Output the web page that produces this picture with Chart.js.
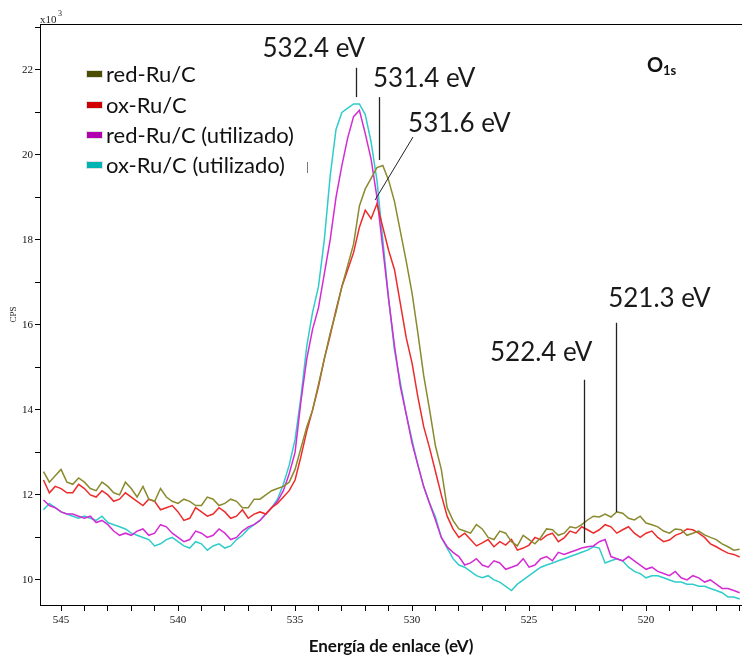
<!DOCTYPE html>
<html>
<head>
<meta charset="utf-8">
<script src="https://cdn.jsdelivr.net/npm/chart.js@4/dist/chart.umd.min.js"></script>
<style>
  html, body { margin: 0; padding: 0; background: #fff; }
  canvas { display: block; }
</style>
</head>
<body>
<canvas id="xps" width="742" height="657"></canvas>
<script>
// Binding energy grid (eV), one row = 2 eV
const energy = [
    545.75, 545.5, 545.25, 545.0, 544.75, 544.5, 544.25, 544.0,
    543.75, 543.5, 543.25, 543.0, 542.75, 542.5, 542.25, 542.0,
    541.75, 541.5, 541.25, 541.0, 540.75, 540.5, 540.25, 540.0,
    539.75, 539.5, 539.25, 539.0, 538.75, 538.5, 538.25, 538.0,
    537.75, 537.5, 537.25, 537.0, 536.75, 536.5, 536.25, 536.0,
    535.75, 535.5, 535.25, 535.0, 534.75, 534.5, 534.25, 534.0,
    533.75, 533.5, 533.25, 533.0, 532.75, 532.5, 532.25, 532.0,
    531.75, 531.5, 531.25, 531.0, 530.75, 530.5, 530.25, 530.0,
    529.75, 529.5, 529.25, 529.0, 528.75, 528.5, 528.25, 528.0,
    527.75, 527.5, 527.25, 527.0, 526.75, 526.5, 526.25, 526.0,
    525.75, 525.5, 525.25, 525.0, 524.75, 524.5, 524.25, 524.0,
    523.75, 523.5, 523.25, 523.0, 522.75, 522.5, 522.25, 522.0,
    521.75, 521.5, 521.25, 521.0, 520.75, 520.5, 520.25, 520.0,
    519.75, 519.5, 519.25, 519.0, 518.75, 518.5, 518.25, 518.0,
    517.75, 517.5, 517.25, 517.0, 516.75, 516.5, 516.25, 516.0
];

// CPS (x10^3) per sample, same grid as energy
const redRuC = [
    12.55, 12.3, 12.45, 12.6, 12.3, 12.25, 12.4, 12.3,
    12.15, 12.1, 12.3, 12.2, 12.05, 12.0, 12.3, 12.15,
    11.95, 12.2, 11.9, 11.85, 12.15, 11.95, 11.85, 11.8,
    11.9, 11.85, 11.75, 11.75, 11.95, 11.9, 11.75, 11.8,
    11.9, 11.85, 11.7, 11.7, 11.9, 11.9, 12.0, 12.1,
    12.15, 12.2, 12.3, 12.6, 13.1, 13.6, 14.0, 14.6,
    15.2, 15.8, 16.3, 16.9, 17.4, 17.9, 18.8, 19.2,
    19.45, 19.7, 19.75, 19.4, 18.9, 18.2, 17.5, 16.75,
    15.8, 14.8, 14.0, 13.15, 12.6, 11.7, 11.4, 11.2,
    11.15, 11.1, 11.3, 11.2, 11.0, 10.95, 11.15, 11.1,
    10.9, 10.8, 11.05, 10.95, 10.85, 11.0, 11.2, 11.18,
    11.05, 11.1, 11.25, 11.22, 11.3, 11.41, 11.5, 11.48,
    11.55, 11.48, 11.6, 11.57, 11.45, 11.41, 11.5, 11.34,
    11.3, 11.25, 11.15, 11.1, 11.2, 11.18, 11.05, 11.1,
    11.15, 11.06, 11.0, 10.95, 10.85, 10.78, 10.7, 10.72
];
const oxRuC = [
    12.35, 12.05, 12.2, 12.15, 12.05, 12.05, 12.25, 12.15,
    12.0, 11.95, 12.1, 12.0, 11.85, 11.9, 12.05, 11.95,
    11.85, 11.75, 11.9, 11.85, 11.65, 11.7, 11.75, 11.6,
    11.4, 11.45, 11.7, 11.6, 11.5, 11.55, 11.7, 11.6,
    11.45, 11.5, 11.65, 11.45, 11.55, 11.6, 11.55, 11.7,
    11.8, 11.95, 12.1, 12.35, 12.9, 13.5, 14.0, 14.55,
    15.2, 15.75, 16.35, 16.9, 17.3, 17.7, 18.3, 18.7,
    18.5, 18.85, 18.3, 17.75, 17.3, 16.5, 15.7, 15.1,
    14.3, 13.6, 13.1, 12.55, 12.0, 11.5, 11.2, 11.0,
    11.1, 10.95, 10.8, 10.87, 10.95, 10.78, 10.9, 10.82,
    10.95, 10.7, 10.75, 10.82, 11.0, 10.94, 11.05, 11.1,
    10.9, 10.99, 11.15, 11.1, 11.25, 11.18, 11.1, 11.18,
    11.3, 11.25, 11.1, 11.18, 11.25, 11.1, 11.0, 11.1,
    11.15, 11.0, 10.9, 10.94, 11.05, 11.1, 11.2, 11.18,
    11.1, 11.0, 10.85, 10.78, 10.7, 10.63, 10.6, 10.54
];
const redRuCUsed = [
    11.88, 11.75, 11.7, 11.6, 11.55, 11.55, 11.5, 11.45,
    11.5, 11.35, 11.4, 11.3, 11.15, 11.05, 11.1, 11.05,
    11.15, 11.2, 11.05, 11.1, 11.3, 11.25, 11.1, 11.0,
    10.9, 10.95, 11.15, 11.1, 11.0, 11.05, 11.2, 11.1,
    10.95, 11.0, 11.15, 11.25, 11.3, 11.4, 11.55, 11.7,
    11.85, 12.1, 12.5, 13.0, 14.2, 15.2, 15.9, 16.4,
    17.2, 18.0, 19.0, 19.75, 20.4, 20.9, 21.05, 20.5,
    19.9, 19.0, 17.8, 16.6, 15.5, 14.55, 13.9, 13.22,
    12.7, 12.19, 11.8, 11.41, 11.0, 10.78, 10.65, 10.55,
    10.35, 10.4, 10.5, 10.35, 10.3, 10.45, 10.4, 10.25,
    10.3, 10.35, 10.5, 10.3, 10.35, 10.5, 10.55, 10.45,
    10.65, 10.6, 10.65, 10.7, 10.75, 10.78, 10.8, 10.9,
    10.95, 10.55, 10.5, 10.45, 10.55, 10.45, 10.35, 10.25,
    10.3, 10.2, 10.15, 10.1, 10.2, 10.05, 10.0, 10.1,
    10.05, 9.95, 10.0, 9.9, 9.8, 9.8, 9.75, 9.7
];
const oxRuCUsed = [
    11.65, 11.8, 11.7, 11.6, 11.55, 11.5, 11.45, 11.5,
    11.45, 11.4, 11.5, 11.35, 11.3, 11.25, 11.2, 11.1,
    11.05, 11.0, 10.95, 10.8, 10.85, 10.95, 11.0, 10.9,
    10.8, 10.75, 10.9, 10.85, 10.7, 10.8, 10.85, 10.75,
    10.8, 10.95, 11.05, 11.2, 11.3, 11.4, 11.55, 11.7,
    11.9, 12.25, 12.7, 13.3, 14.3, 15.5, 16.3, 16.9,
    18.0, 19.5, 20.6, 21.0, 21.1, 21.2, 21.2, 20.95,
    20.3, 19.4, 18.0, 16.6, 15.4, 14.64, 13.9, 13.29,
    12.7, 12.19, 11.8, 11.48, 11.0, 10.75, 10.5, 10.35,
    10.3, 10.2, 10.1, 10.05, 10.1, 10.0, 9.95, 9.85,
    9.75, 9.9, 10.0, 10.1, 10.2, 10.3, 10.35, 10.4,
    10.45, 10.5, 10.55, 10.6, 10.65, 10.7, 10.78, 10.75,
    10.4, 10.45, 10.5, 10.45, 10.3, 10.2, 10.15, 10.05,
    10.1, 10.1, 10.05, 10.0, 9.95, 9.95, 9.9, 9.9,
    9.85, 9.85, 9.8, 9.75, 9.7, 9.6, 9.6, 9.55
];

const seriesNames = ['red-Ru/C', 'ox-Ru/C', 'red-Ru/C (utilizado)', 'ox-Ru/C (utilizado)'];
const xTickLabels = [545, 540, 535, 530, 525, 520];
const yTickLabels = [10, 12, 14, 16, 18, 20, 22];

// Line colours and darker legend swatch colours
const LINE_COLORS = ['#8a8a2e', '#ee2b2b', '#d42bd4', '#30cccc'];
const SWATCH_COLORS = ['#4d4d00', '#d00000', '#b000b0', '#00b4b4'];

// Peak markers: text anchor (tx, ty) and vertical line (from -> to) in data units
const peakLabels = [
    { text: '532.4 eV', e: 532.4, tx: 534.2, ty: 22.3, align: 'center', from: 22.05, to: 21.36 },
    { text: '531.4 eV', e: 531.4, tx: 531.67, ty: 21.6, align: 'left', from: 21.36, to: 19.88 },
    { text: '531.6 eV', e: 531.6, tx: 530.17, ty: 20.55, align: 'left', from: null, to: null },
    { text: '522.4 eV', e: 522.65, tx: 526.67, ty: 15.15, align: 'left', from: 14.71, to: 10.87 },
    { text: '521.3 eV', e: 521.3, tx: 521.62, ty: 16.42, align: 'left', from: 16.05, to: 11.6 }
];

function integerTicks(axis) {
    const ticks = [];
    for (let v = Math.ceil(axis.min); v <= Math.floor(axis.max); v++) {
        ticks.push({ value: v });
    }
    axis.ticks = ticks;
}

const TICK_FONT = { family: 'Liberation Serif', size: 11 };

const annotationPlugin = {
    id: 'xpsAnnotations',
    afterDraw(chart) {
        const { ctx, chartArea } = chart;
        const xs = chart.scales.x;
        const ys = chart.scales.y;
        ctx.save();

        // top frame line
        ctx.strokeStyle = '#000';
        ctx.lineWidth = 1;
        ctx.beginPath();
        ctx.moveTo(chartArea.left, chartArea.top + 0.5);
        ctx.lineTo(chartArea.right, chartArea.top + 0.5);
        ctx.stroke();

        // x10^3 multiplier
        ctx.fillStyle = '#222';
        ctx.font = '11px "Liberation Serif"';
        ctx.textAlign = 'left';
        ctx.textBaseline = 'alphabetic';
        ctx.fillText('x10', chartArea.left, chartArea.top - 1);
        ctx.font = '8px "Liberation Serif"';
        ctx.fillText('3', chartArea.left + 18, chartArea.top - 8);

        // peak lines and labels
        ctx.strokeStyle = '#222';
        ctx.lineWidth = 1.3;
        peakLabels.forEach(p => {
            if (p.from !== null) {
                const x = Math.round(xs.getPixelForValue(p.e)) + 0.5;
                ctx.beginPath();
                ctx.moveTo(x, ys.getPixelForValue(p.from));
                ctx.lineTo(x, ys.getPixelForValue(p.to));
                ctx.stroke();
            }
            ctx.fillStyle = '#1a1a1a';
            ctx.font = '26px Lato';
            ctx.textAlign = p.align;
            ctx.fillText(p.text, xs.getPixelForValue(p.tx), ys.getPixelForValue(p.ty));
        });
        // slanted pointer for 531.6 eV
        ctx.lineWidth = 1;
        ctx.beginPath();
        ctx.moveTo(xs.getPixelForValue(529.96), ys.getPixelForValue(20.42));
        ctx.lineTo(xs.getPixelForValue(531.58), ys.getPixelForValue(18.94));
        ctx.stroke();

        // stray mark beside the legend
        ctx.strokeStyle = '#777';
        ctx.beginPath();
        ctx.moveTo(307.5, 162);
        ctx.lineTo(307.5, 173);
        ctx.stroke();

        // O1s
        ctx.fillStyle = '#111';
        ctx.textAlign = 'left';
        ctx.font = 'bold 20px Lato';
        ctx.fillText('O', 647, 72);
        ctx.font = 'bold 13px Lato';
        ctx.fillText('1s', 663, 75);

        // legend
        const rows = [82, 113, 143, 173];
        seriesNames.forEach((name, i) => {
            const cy = rows[i] - 8;
            ctx.fillStyle = SWATCH_COLORS[i];
            ctx.fillRect(87, cy - 3, 15, 6);
            ctx.strokeStyle = 'rgba(0,0,0,0.12)';
            ctx.lineWidth = 1;
            ctx.strokeRect(86.5, cy - 3.5, 16, 7);
            ctx.fillStyle = '#111';
            ctx.font = '22px Lato';
            ctx.textAlign = 'left';
            ctx.fillText(name, 106, rows[i]);
        });

        ctx.restore();
    }
};

const seriesValues = [redRuC, oxRuC, redRuCUsed, oxRuCUsed];
const datasets = seriesValues.map((values, i) => ({
    label: seriesNames[i],
    data: energy.map((e, j) => ({ x: e, y: values[j] })),
    borderColor: LINE_COLORS[i],
    borderWidth: 1.5,
    pointRadius: 0,
    tension: 0,
    fill: false
}));

new Chart(document.getElementById('xps').getContext('2d'), {
    type: 'line',
    data: { datasets },
    options: {
        responsive: false,
        animation: false,
        devicePixelRatio: 1,
        layout: { padding: { top: 24, left: 0, right: 0, bottom: 0 } },
        plugins: {
            legend: { display: false },
            tooltip: { enabled: false }
        },
        scales: {
            x: {
                type: 'linear',
                reverse: true,
                min: 515.9,
                max: 545.9,
                afterBuildTicks: integerTicks,
                afterFit: s => { s.height = 52; s.paddingLeft = 0; s.paddingRight = 0; },
                grid: { drawOnChartArea: false, drawTicks: true, tickLength: 6, color: '#000' },
                border: { color: '#000', width: 1 },
                ticks: {
                    autoSkip: false,
                    maxRotation: 0,
                    padding: 3,
                    color: '#111',
                    font: TICK_FONT,
                    callback: v => xTickLabels.includes(v) ? String(v) : ''
                },
                title: {
                    display: true,
                    text: 'Energía de enlace (eV)',
                    color: '#111',
                    font: { family: 'Lato', size: 17, weight: 'bold' },
                    padding: { top: 0, bottom: 0 }
                }
            },
            y: {
                type: 'linear',
                min: 9.41,
                max: 23.08,
                afterBuildTicks: integerTicks,
                afterFit: s => { s.width = 40; s.paddingTop = 0; s.paddingBottom = 0; },
                grid: { drawOnChartArea: false, drawTicks: true, tickLength: 5, color: '#000' },
                border: { color: '#000', width: 1 },
                ticks: {
                    autoSkip: false,
                    padding: 2,
                    color: '#111',
                    font: TICK_FONT,
                    callback: v => yTickLabels.includes(v) ? String(v) : ''
                },
                title: {
                    display: true,
                    text: 'CPS',
                    color: '#222',
                    font: { family: 'Liberation Serif', size: 9 },
                    padding: { top: 8, bottom: 0 }
                }
            }
        }
    },
    plugins: [annotationPlugin]
});
</script>
</body>
</html>
